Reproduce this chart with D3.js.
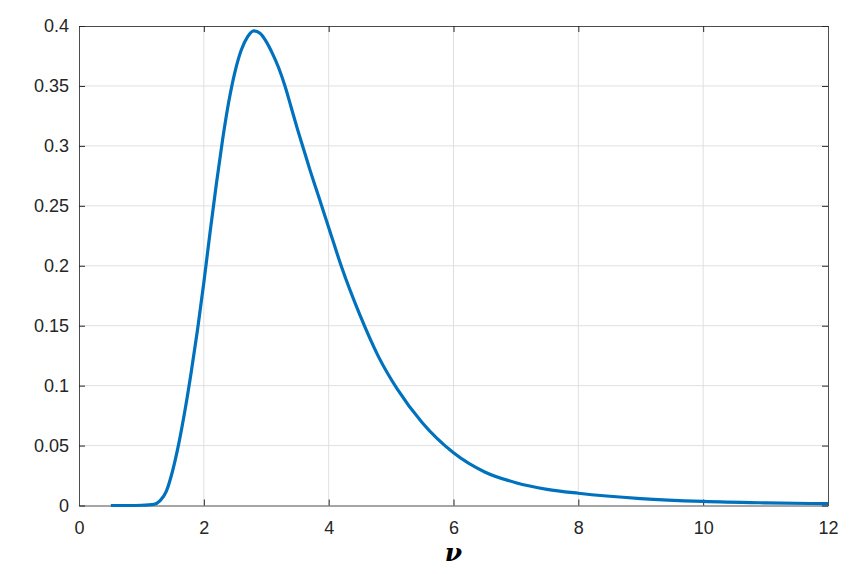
<!DOCTYPE html>
<html>
<head>
<meta charset="utf-8">
<script src="https://cdn.jsdelivr.net/npm/d3@7"></script>
<style>
  body { margin: 0; background: #fff; }
  text { font-family: "Liberation Sans", Arial, sans-serif; }
</style>
</head>
<body>
<div id="chart"></div>
<script>
// values
const nu = [0.51, 0.8, 1.0, 1.2, 1.3, 1.4, 1.5, 1.6, 1.7, 1.8, 1.9, 2.0, 2.1, 2.2, 2.3, 2.4, 2.5, 2.6, 2.7, 2.8, 2.9, 3.0, 3.1, 3.2, 3.3, 3.4, 3.5, 3.6, 3.7, 3.8, 3.9, 4.0, 4.2, 4.5, 4.8, 5.1, 5.5, 6.0, 6.5, 7.0, 7.5, 8.0, 9.0, 10.0, 11.0, 12.0];
const pdf = [0, 0, 0.0002, 0.001, 0.004, 0.012, 0.029, 0.052, 0.080, 0.112, 0.147, 0.186, 0.228, 0.268, 0.305, 0.337, 0.362, 0.380, 0.391, 0.396, 0.394, 0.387, 0.377, 0.365, 0.350, 0.332, 0.314, 0.297, 0.280, 0.264, 0.248, 0.232, 0.200, 0.159, 0.124, 0.097, 0.069, 0.044, 0.028, 0.019, 0.0135, 0.0102, 0.0058, 0.0034, 0.0022, 0.0015];
const xTicks = [0, 2, 4, 6, 8, 10, 12];
const yTicks = [0, 0.05, 0.1, 0.15, 0.2, 0.25, 0.3, 0.35, 0.4];
const xLabel = "ν";

const width = 850, height = 574;
const margin = {left: 79, top: 26, right: 22, bottom: 68.5};
const iw = width - margin.left - margin.right,
      ih = height - margin.top - margin.bottom;

const svg = d3.select("#chart").append("svg")
  .attr("width", width)
  .attr("height", height);

const g = svg.append("g")
  .attr("transform", "translate(" + margin.left + "," + margin.top + ")");

const x = d3.scaleLinear().domain([0, 12]).range([0, iw]);
const y = d3.scaleLinear().domain([0, 0.4]).range([ih, 0]);

// grid
g.append("g").selectAll("line").data(xTicks.slice(1, -1)).join("line")
  .attr("x1", d => x(d)).attr("x2", d => x(d))
  .attr("y1", 0).attr("y2", ih)
  .attr("stroke", "#e0e0e0").attr("stroke-width", 1);
g.append("g").selectAll("line").data(yTicks.slice(1, -1)).join("line")
  .attr("y1", d => y(d)).attr("y2", d => y(d))
  .attr("x1", 0).attr("x2", iw)
  .attr("stroke", "#e0e0e0").attr("stroke-width", 1);

// axes, ticks inward like matlab
const fmt = d => d3.format("~g")(d);
const axisStyle = sel => {
  sel.select(".domain").attr("stroke", "#4d4d4d").attr("stroke-width", 1);
  sel.selectAll(".tick line").attr("stroke", "#262626");
  sel.selectAll(".tick text").attr("fill", "#262626")
    .style("font-size", "18px").style("font-family", "'Liberation Sans', Arial, sans-serif");
};

g.append("g").attr("transform", "translate(0," + ih + ")")
  .call(d3.axisBottom(x).tickValues(xTicks).tickFormat(fmt).tickSizeInner(-6).tickSizeOuter(0).tickPadding(16))
  .call(axisStyle);
g.append("g")
  .call(d3.axisTop(x).tickValues(xTicks).tickFormat("").tickSizeInner(-6).tickSizeOuter(0))
  .call(axisStyle);
g.append("g")
  .call(d3.axisLeft(y).tickValues(yTicks).tickFormat(fmt).tickSizeInner(-6).tickSizeOuter(0).tickPadding(10))
  .call(axisStyle);
g.append("g").attr("transform", "translate(" + iw + ",0)")
  .call(d3.axisRight(y).tickValues(yTicks).tickFormat("").tickSizeInner(-6).tickSizeOuter(0))
  .call(axisStyle);

// curve
const pts = nu.map((v, i) => [v, pdf[i]]);
g.append("path")
  .datum(pts)
  .attr("fill", "none")
  .attr("stroke", "#0072BD")
  .attr("stroke-width", 3.2)
  .attr("stroke-linejoin", "round")
  .attr("d", d3.line().x(d => x(d[0])).y(d => y(d[1])).curve(d3.curveMonotoneX));

// x label
svg.append("text")
  .attr("x", margin.left + iw / 2)
  .attr("y", 561)
  .attr("text-anchor", "middle")
  .style("font-family", "'DejaVu Serif', 'Liberation Serif', serif")
  .style("font-style", "italic")
  .style("font-weight", "bold")
  .style("font-size", "25px")
  .attr("fill", "#000")
  .text(xLabel);
</script>
</body>
</html>
